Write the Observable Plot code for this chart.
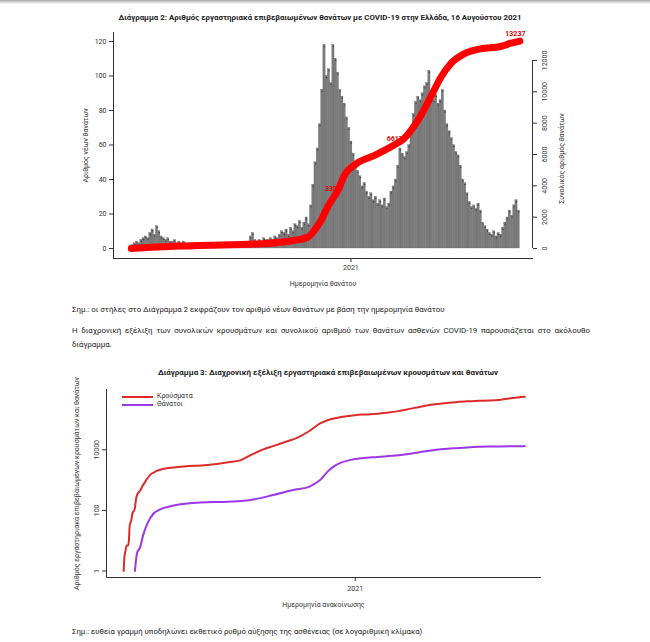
<!DOCTYPE html>
<html><head><meta charset="utf-8">
<script src="https://cdn.jsdelivr.net/npm/d3@7"></script>
<script src="https://cdn.jsdelivr.net/npm/@observablehq/plot@0.6"></script>
<style>
body{margin:0;background:#fff;}
#page{position:relative;width:650px;height:642px;overflow:hidden;background:#fff;font-family:Roboto,"Noto Sans",sans-serif;color:#222;}
.abs{position:absolute;white-space:nowrap;}
.title{font-weight:bold;font-size:7.9px;transform:translate(-50%,-50%);}
.note{font-size:7.9px;transform:translateY(-50%);}
#band{position:absolute;left:0;top:0;width:650px;height:4px;background:linear-gradient(#a8a8a8,#fff);}
#para{position:absolute;left:72px;top:324px;width:518px;font-size:7.9px;line-height:13.5px;text-align:justify;}
.leg{position:absolute;font-size:7px;color:#333;}
.legline{position:absolute;height:2px;width:31px;}
svg{overflow:visible;}
</style></head><body><div id="page">
<div id="band"></div>
<div id="t1" class="abs title" style="left:320px;top:17px">Διάγραμμα 2: Αριθμός εργαστηριακά επιβεβαιωμένων θανάτων με COVID-19 στην Ελλάδα, 16 Αυγούστου 2021</div>
<div id="c1" style="position:absolute;left:0;top:25px;"></div>
<div id="n1" class="abs note" style="left:72px;top:309px">Σημ.: οι στήλες στο Διάγραμμα 2 εκφράζουν τον αριθμό νέων θανάτων με βάση την ημερομηνία θανάτου</div>
<div id="para">Η διαχρονική εξέλιξη των συνολικών κρουσμάτων και συνολικού αριθμού των θανάτων ασθενών COVID-19 παρουσιάζεται στο ακόλουθο διάγραμμα.</div>
<div id="t2" class="abs title" style="left:328px;top:372px">Διάγραμμα 3: Διαχρονική εξέλιξη εργαστηριακά επιβεβαιωμένων κρουσμάτων και θανάτων</div>
<div id="c2" style="position:absolute;left:0;top:380px;"></div>
<div class="legline" style="left:122px;top:396px;background:#dd2b2b"></div>
<div class="legline" style="left:122px;top:404px;background:#9b37e6"></div>
<div class="leg" style="left:157px;top:392px">Κρούσματα</div>
<div class="leg" style="left:157px;top:400px">Θάνατοι</div>
<div id="n2" class="abs note" style="left:72px;top:631px">Σημ.: ευθεία γραμμή υποδηλώνει εκθετικό ρυθμό αύξησης της ασθένειας (σε λογαριθμική κλίμακα)</div>
</div>
<script>
// ---------- Chart 1 data ----------
const dailyStart = "2020-03-12";
const dailyStepDays = 3;
const dailyDeaths = [
  2,3,4,3,5, 6,7,6,9,11, 8,13,10,7,6, 5,6,4,4,5, 3,4,3,4,3, 2,3,3,2,3,
  2,2,3,2,2, 3,2,2,3,2, 2,3,2,3,2, 3,2,3,3,2, 3,3,4,7,9, 5,4,5,4,6,
  5,5,6,5,7, 6,8,10,9,11, 8,12,10,14,13, 16,12,15,18,14, 25,37,50,58,72,
  92,118,100,104,96, 118,110,102,92,88, 84,76,70,62,55, 50,45,42,36,38,
  33,30,32,28,30, 26,28,25,29,24, 26,33,36,40,48, 58,55,53,56,60,
  68,78,85,88,86, 90,94,96,103,90, 86,89,84,86,92, 80,72,68,64,60,
  56,54,48,40,38, 32,27,24,25,23, 26,22,15,13,11, 9,8,10,7,9,
  8,12,15,18,22, 19,25,28,22
];
const cumDates = ["2020-03-12","2020-04-08","2020-06-04","2020-09-02","2020-10-16","2020-11-04","2020-11-12","2020-11-22","2020-12-01","2020-12-15","2020-12-23","2021-01-08","2021-02-01","2021-02-28","2021-03-13","2021-04-01","2021-04-18","2021-05-02","2021-05-15","2021-06-02","2021-06-24","2021-07-21","2021-08-04","2021-08-16"];
const cumDeaths = [1,80,180,300,510,720,1100,1800,2680,3750,4650,5400,5920,6600,7000,8170,9650,10930,11790,12420,12740,12890,13100,13237];
const cumLabelDates = ["2020-12-08","2021-03-01","2021-08-10"];
const cumLabelValues = [3830,7020,13720];
const cumLabelTexts = ["3328","6617","13237"];
const leftTicks = [0,20,40,60,80,100,120];
const rightTicks = [0,2000,4000,6000,8000,10000,12000];
const yearTicks = ["2021-01-01"];

// ---------- Chart 2 data ----------
const casesDates = ["2020-02-26","2020-02-27","2020-02-28","2020-03-01","2020-03-03","2020-03-04","2020-03-05","2020-03-07","2020-03-09","2020-03-11","2020-03-12","2020-03-13","2020-03-15","2020-03-18","2020-03-20","2020-03-22","2020-03-25","2020-03-29","2020-04-02","2020-04-06","2020-04-10","2020-04-15","2020-04-22","2020-05-03","2020-05-20","2020-06-08","2020-06-30","2020-07-15","2020-07-31","2020-08-15","2020-08-31","2020-09-15","2020-09-30","2020-10-15","2020-10-31","2020-11-15","2020-11-30","2020-12-15","2020-12-31","2021-01-15","2021-01-31","2021-02-15","2021-02-28","2021-03-15","2021-03-31","2021-04-15","2021-04-30","2021-05-15","2021-05-31","2021-06-15","2021-06-30","2021-07-15","2021-07-31","2021-08-16"];
const casesValues = [1,3,4,7,7,10,31,45,84,99,117,190,331,418,495,624,821,1156,1544,1755,2011,2192,2401,2626,2850,3058,3409,3883,4477,6858,10317,13730,18475,24742,40929,74205,104227,122714,138850,147144,154796,168708,189000,224000,268000,310000,344000,374000,401000,413000,422000,451000,515000,564000];
const deaths2Dates = ["2020-03-12","2020-03-15","2020-03-19","2020-03-23","2020-03-29","2020-04-06","2020-04-15","2020-05-03","2020-06-08","2020-07-15","2020-08-14","2020-09-13","2020-10-10","2020-10-31","2020-11-05","2020-11-15","2020-11-25","2020-12-05","2020-12-12","2020-12-26","2021-01-10","2021-01-31","2021-02-28","2021-03-16","2021-03-31","2021-04-15","2021-04-30","2021-05-15","2021-05-31","2021-06-15","2021-06-30","2021-07-15","2021-07-31","2021-08-16"];
const deaths2Values = [1,4,6,15,38,79,108,144,182,193,220,320,470,600,700,1000,1900,3000,3700,4650,5300,5800,6550,7400,8600,9700,10600,11300,12000,12500,12750,12900,13050,13237];
const logTicks = [1,100,10000];

const parse = d3.utcParse("%Y-%m-%d");
const font = "Roboto, 'Noto Sans', sans-serif";
const axisColor = "#333";

// fit document text widths to the reference
function fitWidth(id, target) {
  const el = document.getElementById(id);
  const base = parseFloat(getComputedStyle(el).fontSize);
  const w = el.getBoundingClientRect().width;
  if (w > 0) el.style.fontSize = (base * target / w) + "px";
}
fitWidth("t1", 403);
fitWidth("t2", 340);
fitWidth("n1", 373);
fitWidth("n2", 350);

// ---------- Chart 1 ----------
const k = 109 / 12000; // right-axis deaths -> left-axis units
const x1Domain = [parse("2020-02-17"), parse("2021-09-02")];
const start = parse(dailyStart);
const daily = dailyDeaths.map((v, i) => ({
  a: d3.utcDay.offset(start, i * dailyStepDays),
  b: d3.utcDay.offset(start, (i + 1) * dailyStepDays),
  m: d3.utcHour.offset(d3.utcDay.offset(start, i * dailyStepDays), 36),
  v
}));
const cum = cumDates.map((d, i) => ({date: parse(d), y: cumDeaths[i] * k}));
const cumLabels = cumLabelDates.map((d, i) => ({date: parse(d), y: cumLabelValues[i] * k, t: cumLabelTexts[i]}));

const p1 = Plot.plot({
  width: 650, height: 275,
  marginLeft: 113, marginRight: 118, marginTop: 7, marginBottom: 42,
  x: {type: "utc", domain: x1Domain},
  y: {domain: [-5.8, 125.2]},
  style: {fontFamily: font, fontSize: "7px", color: axisColor, background: "transparent"},
  marks: [
    Plot.rectY(daily, {x1: "a", x2: "b", y1: 0, y2: "v", fill: "#7a7a7a", stroke: "#686868", strokeWidth: 0.3}),
    Plot.dot(daily, {x: "m", y: "v", r: 0.7, dy: 1.5, fill: "#3a3a3a", stroke: "none"}),
    Plot.text(cumLabels, {x: "date", y: "y", text: "t", fill: "#e00000", fontWeight: "bold", fontSize: 7}),
    Plot.line(cum, {x: "date", y: "y", stroke: "#ff0000", strokeWidth: 7, curve: "monotone-x", strokeLinecap: "round"}),
    Plot.frame({anchor: "left", stroke: axisColor}),
    Plot.frame({anchor: "bottom", stroke: axisColor}),
    Plot.axisY(leftTicks, {anchor: "left", tickSize: 4, tickPadding: 3, fontSize: 7, label: null}),
    Plot.ruleX([x1Domain[1]], {y1: 0, y2: 12000 * k, stroke: axisColor}),
    Plot.axisY(rightTicks.map(t => t * k), {anchor: "right", tickFormat: d => String(Math.round(d / k)), tickRotate: -90, lineAnchor: "top", tickSize: 4, tickPadding: 6, fontSize: 7, label: null}),
    Plot.axisX(yearTicks.map(parse), {tickFormat: d => d3.utcFormat("%Y")(d), tickSize: 4, tickPadding: 3, fontSize: 7, label: null}),
    Plot.text(["Ημερομηνία θανάτου"], {frameAnchor: "bottom", dy: 27, text: d => d, fontSize: 7, fill: axisColor}),
    Plot.text(["Αριθμός νέων θανάτων"], {frameAnchor: "left", dx: -28, rotate: -90, textAnchor: "middle", text: d => d, fontSize: 7, fill: axisColor}),
    Plot.text(["Συνολικός αριθμός θανάτων"], {frameAnchor: "right", dx: 29, dy: 13, rotate: -90, textAnchor: "middle", text: d => d, fontSize: 7, fill: axisColor})
  ]
});
document.getElementById("c1").appendChild(p1);

// ---------- Chart 2 ----------
const cases = casesDates.map((d, i) => ({date: parse(d), v: casesValues[i]}));
const deaths2 = deaths2Dates.map((d, i) => ({date: parse(d), v: deaths2Values[i]}));
const p2 = Plot.plot({
  width: 650, height: 235,
  marginLeft: 106, marginRight: 110, marginTop: 9, marginBottom: 38,
  x: {type: "utc", domain: [parse("2020-02-03"), parse("2021-09-06")]},
  y: {type: "log", domain: [0.61, 977000]},
  style: {fontFamily: font, fontSize: "7px", color: axisColor, background: "transparent"},
  marks: [
    Plot.line(cases, {x: "date", y: "v", stroke: "#dd2b2b", strokeWidth: 2, curve: "monotone-x"}),
    Plot.line(deaths2, {x: "date", y: "v", stroke: "#9b37e6", strokeWidth: 2, curve: "monotone-x"}),
    Plot.frame({anchor: "left", stroke: axisColor}),
    Plot.frame({anchor: "bottom", stroke: axisColor}),
    Plot.axisY(logTicks, {anchor: "left", tickFormat: d => String(d), tickRotate: -90, tickSize: 4, tickPadding: 4, fontSize: 7, label: null}),
    Plot.axisX(yearTicks.map(parse), {tickFormat: d => d3.utcFormat("%Y")(d), tickSize: 4, tickPadding: 5, fontSize: 7, label: null}),
    Plot.text(["Ημερομηνία ανακοίνωσης"], {frameAnchor: "bottom", dy: 29, text: d => d, fontSize: 7, fill: axisColor}),
    Plot.text(["Αριθμός εργαστηριακά επιβεβαιωμένων κρουσμάτων και θανάτων"], {frameAnchor: "left", dx: -30, rotate: -90, textAnchor: "middle", text: d => d, fontSize: 7, fill: axisColor})
  ]
});
document.getElementById("c2").appendChild(p2);
</script>
</body></html>
